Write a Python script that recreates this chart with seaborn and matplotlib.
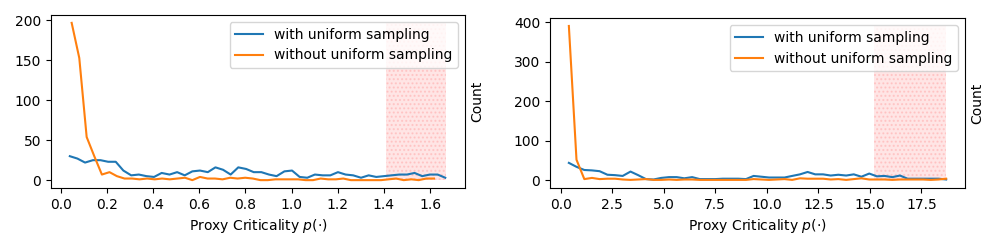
import matplotlib
matplotlib.use("Agg")
import matplotlib.pyplot as plt
import seaborn as sns

# --- left panel: bin centres and counts ---
left_x_with = [0.039, 0.072, 0.105, 0.139, 0.172, 0.205, 0.238, 0.271, 0.305, 0.338,
               0.371, 0.404, 0.437, 0.471, 0.504, 0.537, 0.570, 0.603, 0.637, 0.670,
               0.703, 0.736, 0.769, 0.803, 0.836, 0.869, 0.902, 0.935, 0.969, 1.002,
               1.035, 1.068, 1.101, 1.135, 1.168, 1.201, 1.234, 1.267, 1.301, 1.334,
               1.367, 1.400, 1.433, 1.467, 1.500, 1.533, 1.566, 1.599, 1.633, 1.666]
left_with = [30, 27, 22, 25, 25, 23, 23, 12, 6, 7,
             5, 4, 9, 7, 10, 6, 11, 12, 10, 16,
             13, 7, 16, 14, 10, 10, 7, 5, 11, 12,
             4, 3, 7, 6, 6, 10, 7, 6, 3, 6,
             4, 5, 6, 7, 7, 9, 5, 7, 7, 3]

left_x_without = [0.047, 0.080, 0.112, 0.145, 0.178, 0.211, 0.243, 0.276, 0.309, 0.341,
                  0.374, 0.407, 0.439, 0.472, 0.505, 0.538, 0.570, 0.603, 0.636, 0.668,
                  0.701, 0.734, 0.766, 0.799, 0.832, 0.865, 0.897, 0.930, 0.963, 0.995,
                  1.028, 1.061, 1.093, 1.126, 1.159, 1.192, 1.224, 1.257, 1.290, 1.322,
                  1.355, 1.388, 1.420, 1.453, 1.486, 1.519, 1.551, 1.584, 1.617]
left_without = [197, 153, 54, 30, 7, 10, 5, 2, 2, 1,
                2, 1, 2, 1, 2, 3, 0, 4, 2, 2,
                1, 3, 2, 3, 2, 0, 0, 1, 1, 1,
                1, 0, 0, 2, 1, 1, 2, 0, 0, 0,
                0, 0, 1, 2, 0, 1, 0, 2, 2]

left_span = [1.41, 1.67]
left_span_top = 197

# --- right panel ---
right_x = [0.40, 0.77, 1.15, 1.52, 1.89, 2.27, 2.64, 3.01, 3.39, 3.76,
           4.14, 4.51, 4.88, 5.26, 5.63, 6.00, 6.38, 6.75, 7.12, 7.50,
           7.87, 8.24, 8.62, 8.99, 9.36, 9.74, 10.11, 10.48, 10.86, 11.23,
           11.61, 11.98, 12.35, 12.73, 13.10, 13.47, 13.85, 14.22, 14.59, 14.97,
           15.34, 15.71, 16.09, 16.46, 16.83, 17.21, 17.58, 17.96, 18.33, 18.70]
right_with = [44, 34, 26, 25, 23, 14, 13, 11, 22, 13,
              3, 2, 6, 8, 8, 5, 8, 3, 3, 3,
              4, 4, 4, 3, 11, 9, 7, 7, 7, 11,
              15, 21, 15, 15, 12, 14, 12, 15, 9, 17,
              10, 11, 8, 12, 4, 4, 4, 4, 4, 2]
right_without = [390, 52, 3, 6, 3, 4, 4, 2, 1, 2,
                 3, 1, 1, 2, 1, 2, 2, 1, 1, 1,
                 1, 1, 1, 1, 3, 2, 1, 2, 3, 1,
                 5, 4, 4, 4, 2, 3, 1, 3, 5, 2,
                 2, 2, 1, 2, 2, 2, 2, 1, 2, 4]

right_span = [15.2, 18.7]
right_span_top = 390

LABEL_WITH = "with uniform sampling"
LABEL_WITHOUT = "without uniform sampling"


def draw_panel(ax, x_with, y_with, x_without, y_without, span, span_top):
    sns.lineplot(x=x_with, y=y_with, ax=ax, label=LABEL_WITH, color="C0")
    sns.lineplot(x=x_without, y=y_without, ax=ax, label=LABEL_WITHOUT, color="C1")
    # shaded high-criticality region
    ax.fill_between(span, 0, span_top, facecolor=(1, 0, 0, 0.1),
                    edgecolor=(1, 0, 0, 0.12), hatch="....", linewidth=0)
    ax.set_xlabel(r"Proxy Criticality $p(\cdot)$")
    ax.set_ylabel("Count")
    ax.yaxis.set_label_position("right")
    ax.legend(loc="upper right")


fig = plt.figure(figsize=(10, 2.5), dpi=100)
ax1 = fig.add_axes([0.051, 0.248, 0.414, 0.692])
ax2 = fig.add_axes([0.550, 0.248, 0.415, 0.679])

draw_panel(ax1, left_x_with, left_with, left_x_without, left_without,
           left_span, left_span_top)
draw_panel(ax2, right_x, right_with, right_x, right_without,
           right_span, right_span_top)

fig.savefig("out.png", dpi=100)
plt.close(fig)
